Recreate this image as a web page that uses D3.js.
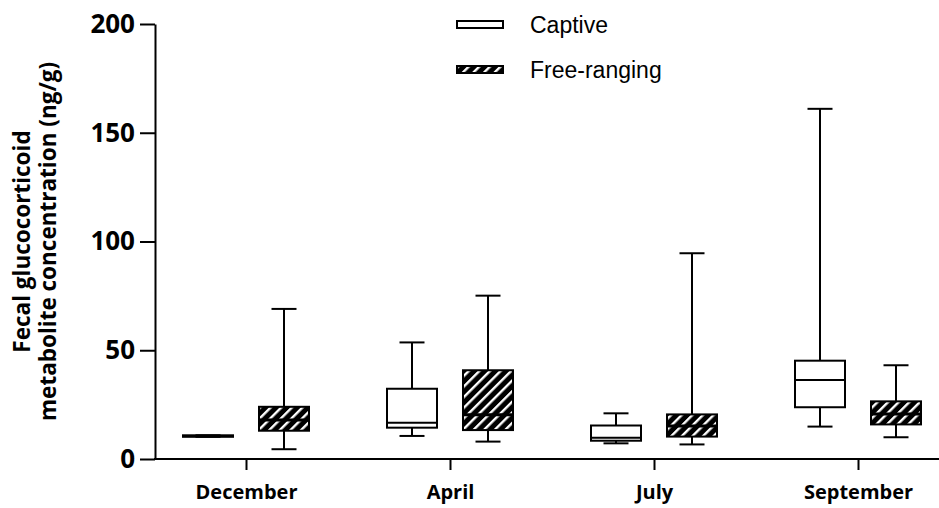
<!DOCTYPE html>
<html>
<head>
<meta charset="utf-8">
<script src="https://cdn.jsdelivr.net/npm/d3@7/dist/d3.min.js"></script>
<style>
  html, body { margin: 0; padding: 0; background: #fff; }
  svg { display: block; }
</style>
</head>
<body>
<svg id="chart" width="939" height="508"></svg>
<script>
// ---- Data ----
const categories = ["December", "April", "July", "September"];
const series = ["Captive", "Free-ranging"];
const captiveMin    = [10.2, 10.6,  7.2,  14.9];
const captiveQ1     = [10.2, 14.4,  8.4,  23.8];
const captiveMedian = [10.6, 16.7,  9.8,  36.3];
const captiveQ3     = [10.9, 32.3, 15.4,  45.2];
const captiveMax    = [10.9, 53.6, 21.0, 161.0];
const freeMin    = [ 4.5,  8.0,  6.7, 10.0];
const freeQ1     = [13.0, 13.3, 10.3, 15.9];
const freeMedian = [17.9, 20.4, 15.2, 20.7];
const freeQ3     = [24.0, 40.8, 20.5, 26.5];
const freeMax    = [69.0, 75.1, 94.6, 43.1];
const yTicks = [0, 50, 100, 150, 200];
const yLabelLines = ["Fecal glucocorticoid", "metabolite concentration (ng/g)"];

// ---- Build records ----
const boxes = [];
categories.forEach((c, i) => {
  boxes.push({cat: c, s: "Captive", min: captiveMin[i], q1: captiveQ1[i], med: captiveMedian[i], q3: captiveQ3[i], max: captiveMax[i]});
  boxes.push({cat: c, s: "Free-ranging", min: freeMin[i], q1: freeQ1[i], med: freeMedian[i], q3: freeQ3[i], max: freeMax[i]});
});

const svg = d3.select("#chart");
const axisX = 155, axisBottom = 459, axisTop = 24;
const FONT = "'Open Sans', 'Noto Sans', sans-serif";

const y = d3.scaleLinear().domain([0, 200]).range([axisBottom, axisTop]);
const x0 = d3.scalePoint().domain(categories).range([246, 858]);
const x1 = d3.scalePoint().domain(series).range([-38, 38]);
const boxW = 50, capW = 25;

// hatch pattern
const defs = svg.append("defs");
const pat = defs.append("pattern")
  .attr("id", "hatch")
  .attr("patternUnits", "userSpaceOnUse")
  .attr("width", 7.5).attr("height", 7.5)
  .attr("patternTransform", "rotate(45)");
pat.append("rect").attr("width", 7.5).attr("height", 7.5).attr("fill", "#000");
pat.append("rect").attr("x", 0).attr("width", 2.4).attr("height", 7.5).attr("fill", "#fff");

const fillFor = s => s === "Captive" ? "#fff" : "url(#hatch)";

// ---- Axes ----
const yAxis = d3.axisLeft(y).tickValues(yTicks).tickSize(15).tickPadding(5).tickSizeOuter(0);
const gy = svg.append("g").attr("transform", `translate(${axisX},0)`).call(yAxis);
gy.select(".domain").attr("stroke", "#000").attr("stroke-width", 2);
gy.selectAll(".tick line").attr("stroke", "#000").attr("stroke-width", 2);
gy.selectAll(".tick text")
  .attr("font-family", FONT)
  .attr("font-weight", "bold").attr("font-size", 26).attr("fill", "#000");

const xAxis = d3.axisBottom(x0).tickSize(11).tickPadding(15).tickSizeOuter(0);
const gx = svg.append("g").attr("transform", `translate(0,${axisBottom})`).call(xAxis);
gx.select(".domain").remove();
gx.append("line").attr("x1", axisX - 1).attr("x2", 939).attr("y1", 0).attr("y2", 0)
  .attr("stroke", "#000").attr("stroke-width", 2);
gx.selectAll(".tick line").attr("stroke", "#000").attr("stroke-width", 2);
gx.selectAll(".tick text")
  .attr("font-family", FONT)
  .attr("font-weight", "bold").attr("font-size", 20).attr("fill", "#000");

// y label
const yl = svg.append("text")
  .attr("transform", `translate(0,${(axisTop + axisBottom) / 2}) rotate(-90)`)
  .attr("text-anchor", "middle")
  .attr("font-family", FONT)
  .attr("font-weight", "bold").attr("font-size", 22.5).attr("fill", "#000");
yl.selectAll("tspan").data(yLabelLines).join("tspan")
  .attr("x", 0).attr("y", (d, i) => 30 + i * 25.5)
  .text(d => d);

// ---- Boxes ----
const g = svg.append("g");
const bx = g.selectAll("g.box").data(boxes).join("g")
  .attr("class", "box")
  .attr("transform", d => `translate(${x0(d.cat) + x1(d.s)},0)`);

// whiskers
bx.append("line").attr("x1", 0).attr("x2", 0)
  .attr("y1", d => y(d.max)).attr("y2", d => y(d.q3))
  .attr("stroke", "#000").attr("stroke-width", 2);
bx.append("line").attr("x1", 0).attr("x2", 0)
  .attr("y1", d => y(d.q1)).attr("y2", d => y(d.min))
  .attr("stroke", "#000").attr("stroke-width", 2);
bx.append("line").attr("x1", -capW / 2).attr("x2", capW / 2)
  .attr("y1", d => y(d.max)).attr("y2", d => y(d.max))
  .attr("stroke", "#000").attr("stroke-width", 2);
bx.append("line").attr("x1", -capW / 2).attr("x2", capW / 2)
  .attr("y1", d => y(d.min)).attr("y2", d => y(d.min))
  .attr("stroke", "#000").attr("stroke-width", 2);
// box
bx.append("rect")
  .attr("x", -boxW / 2).attr("width", boxW)
  .attr("y", d => y(d.q3)).attr("height", d => Math.max(0.5, y(d.q1) - y(d.q3)))
  .attr("fill", d => fillFor(d.s)).attr("stroke", "#000").attr("stroke-width", 2);
// median
bx.append("line").attr("x1", -boxW / 2).attr("x2", boxW / 2)
  .attr("y1", d => y(d.med)).attr("y2", d => y(d.med))
  .attr("stroke", "#000").attr("stroke-width", d => d.s === "Captive" ? 2 : 3);

// ---- Legend ----
const lg = svg.append("g");
const legItems = lg.selectAll("g").data(series).join("g")
  .attr("transform", (d, i) => `translate(457,${21 + i * 45})`);
legItems.append("rect").attr("width", 46).attr("height", 7)
  .attr("fill", d => fillFor(d)).attr("stroke", "#000").attr("stroke-width", 2);
legItems.append("text").attr("x", 73).attr("y", 4).attr("dy", "0.35em")
  .attr("font-family", "'Liberation Sans', Arial, sans-serif")
  .attr("font-size", 23).attr("fill", "#000")
  .text(d => d);
</script>
</body>
</html>
